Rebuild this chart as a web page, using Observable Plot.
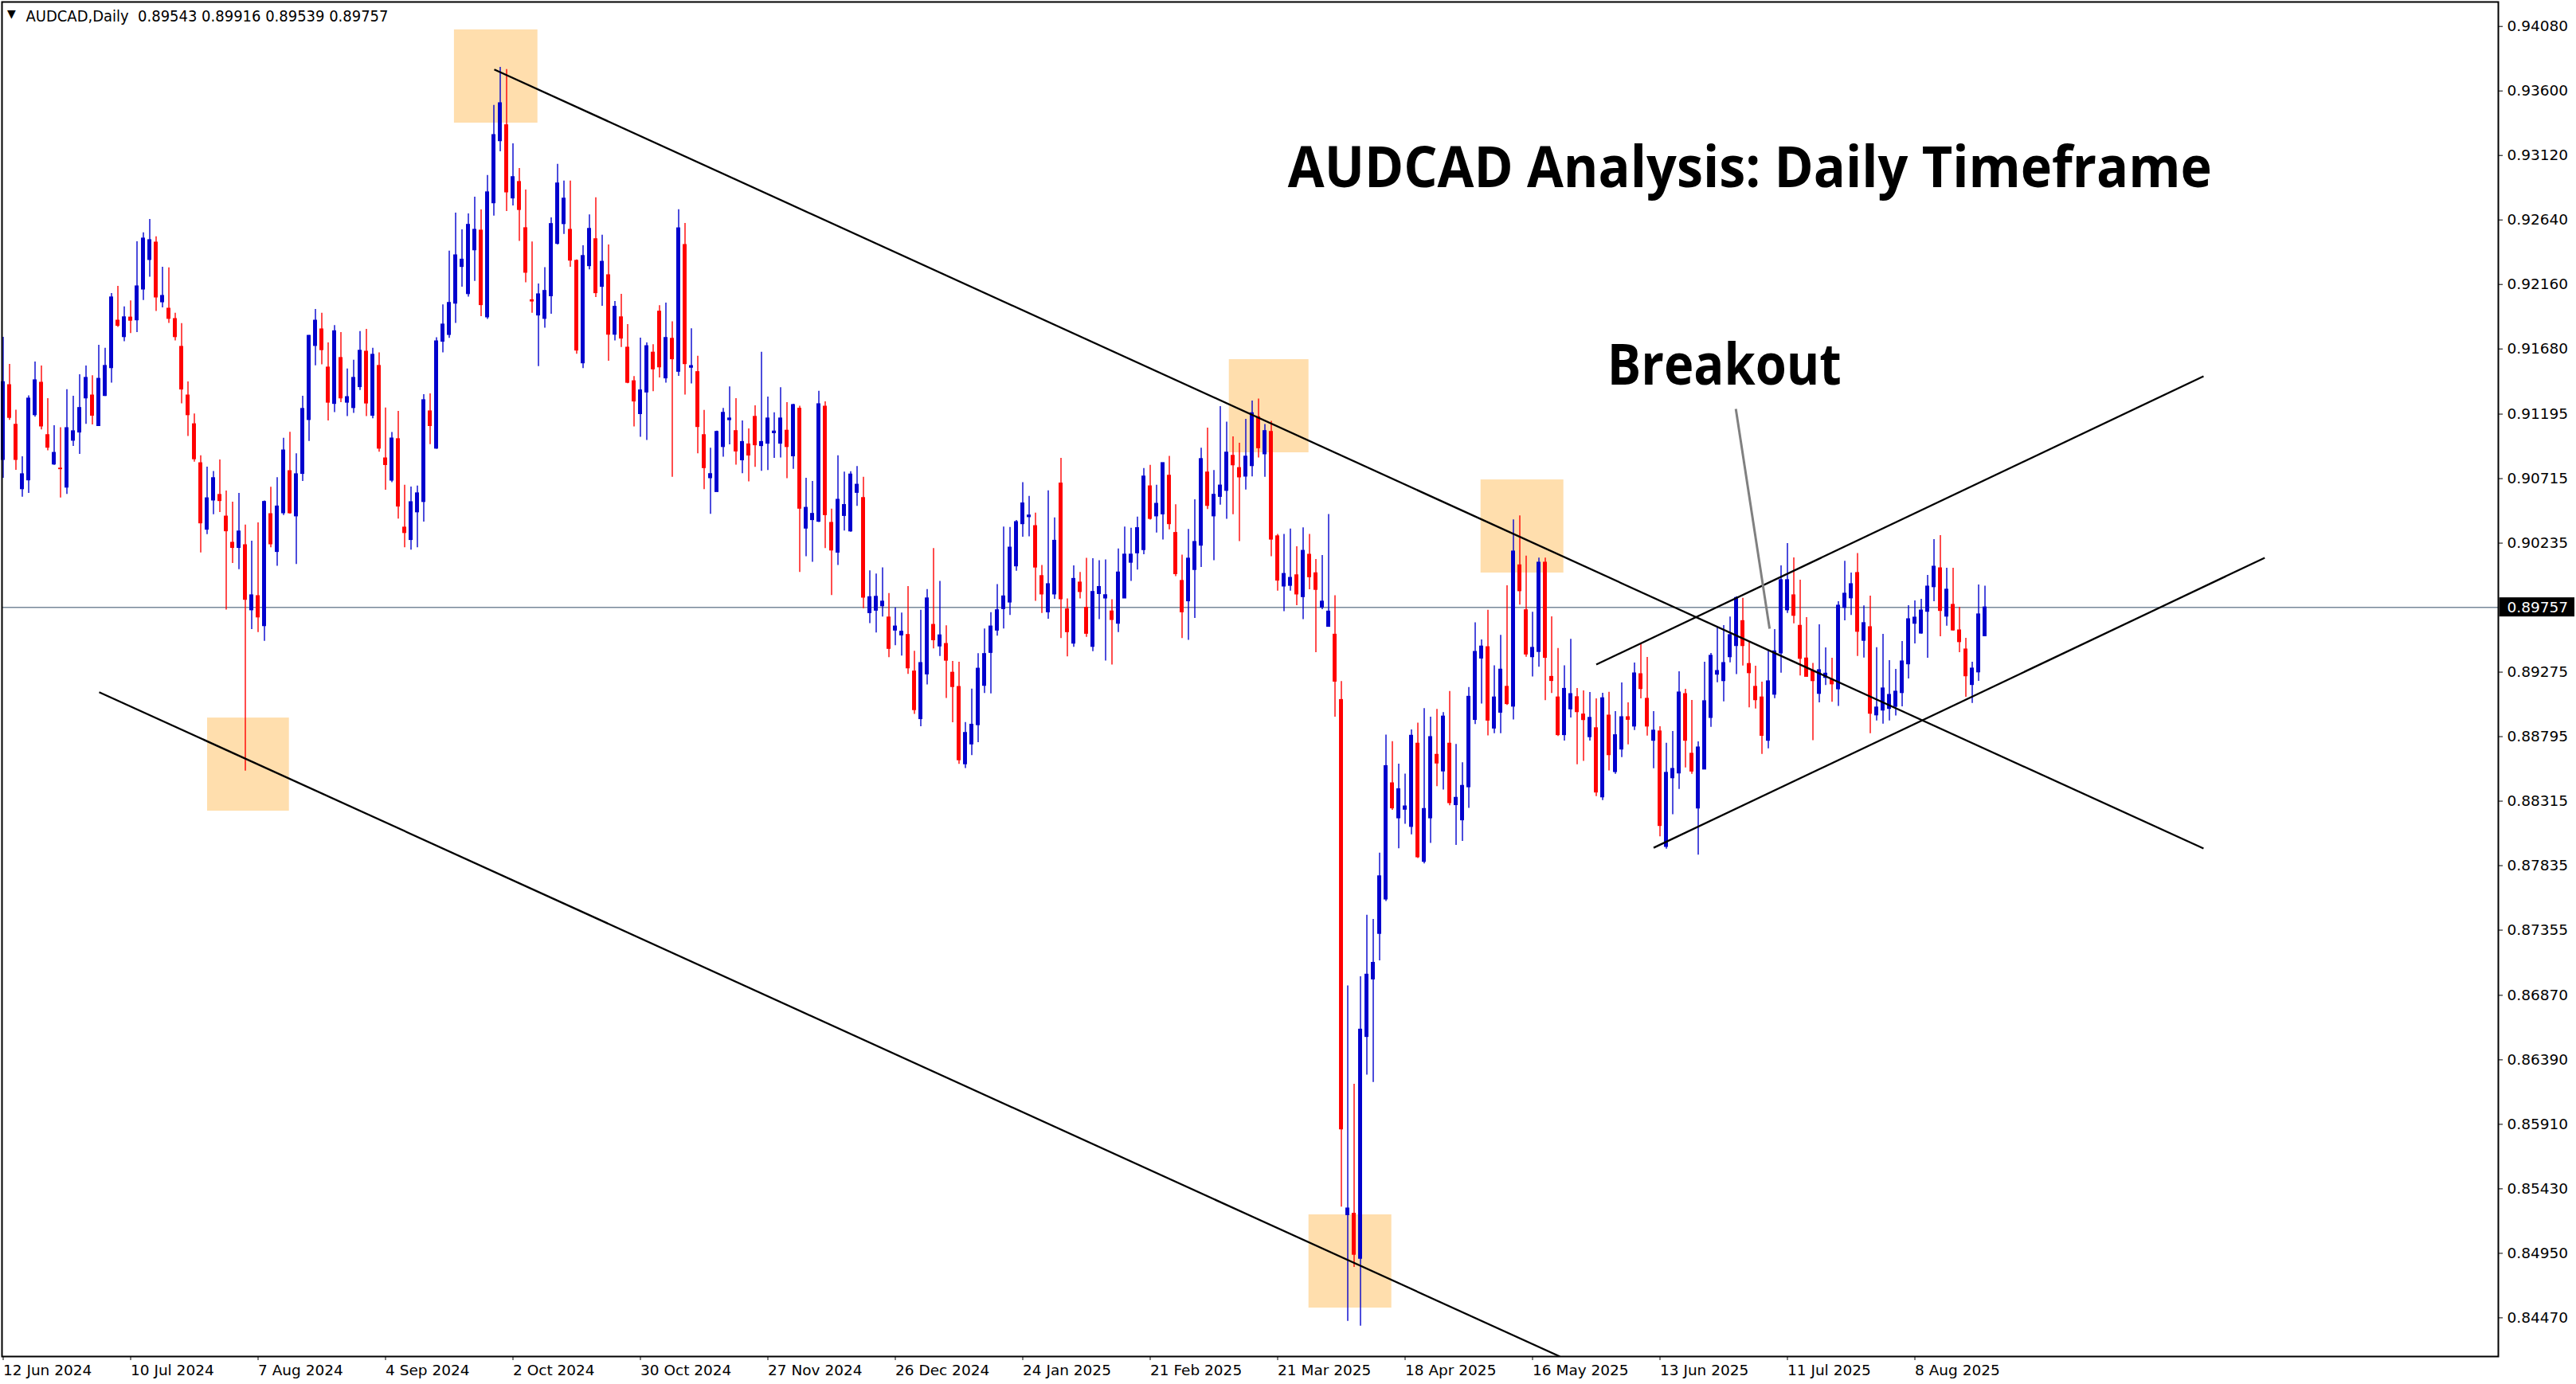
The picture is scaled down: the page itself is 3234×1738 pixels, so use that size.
<!DOCTYPE html>
<html><head><meta charset="utf-8">
<script src="https://cdn.jsdelivr.net/npm/d3@7"></script>
<script src="https://cdn.jsdelivr.net/npm/@observablehq/plot@0.6"></script>
<style>html,body{margin:0;padding:0;background:#fff;overflow:hidden}</style>
</head><body><div id="chart"></div>
<script>
// ---- Daily AUDCAD candles, bar 0 = 12 Jun 2024 ----
const open = [
0.90855,0.91411,0.91116,0.90637,0.90703,0.91188,0.91429,0.91039,0.90821,0.90790,
0.90649,0.90998,0.91059,0.91313,0.91334,0.91107,0.91331,0.91538,0.91891,0.91769,
0.91914,0.91894,0.92123,0.92343,0.92472,0.92028,0.91980,0.91903,0.91696,0.91334,
0.91120,0.90830,0.90336,0.90553,0.90594,0.90433,0.90238,0.90200,0.90220,0.89736,
0.89841,0.89618,0.90451,0.90170,0.90458,0.90771,0.90435,0.90751,0.91152,0.91703,
0.91826,0.91542,0.91272,0.91613,0.91281,0.91241,0.91397,0.91660,0.91184,0.91554,
0.90866,0.90701,0.91009,0.90351,0.90259,0.90465,0.90542,0.91216,0.90939,0.91735,
0.91785,0.92018,0.92291,0.92089,0.92415,0.92561,0.91916,0.92765,0.93227,0.93345,
0.92801,0.92923,0.92579,0.92043,0.91930,0.91905,0.92073,0.92463,0.92610,0.92567,
0.92336,0.91574,0.92297,0.92497,0.92143,0.92229,0.91787,0.91916,0.91690,0.91440,
0.91196,0.91357,0.91653,0.91958,0.91462,0.91756,0.91511,0.92454,0.91541,0.91508,
0.91039,0.90719,0.90616,0.90951,0.91151,0.91069,0.90852,0.90970,0.91175,0.90958,
0.90976,0.91054,0.90976,0.91072,0.90882,0.91236,0.90344,0.90407,0.90395,0.91251,
0.90386,0.90165,0.90438,0.90323,0.90610,0.90571,0.89715,0.89733,0.89766,0.89682,
0.89585,0.89549,0.89552,0.89280,0.88926,0.89259,0.89627,0.89467,0.89485,0.89271,
0.89165,0.88590,0.88738,0.88881,0.89174,0.89419,0.89585,0.89745,0.89794,0.90063,
0.90377,0.90429,0.90362,0.89990,0.89721,0.89854,0.90679,0.89742,0.89488,0.89942,
0.89754,0.89464,0.89857,0.89824,0.89727,0.89636,0.89824,0.90090,0.90160,0.90184,
0.90658,0.90435,0.90450,0.90737,0.90311,0.89954,0.89803,0.90036,0.90217,0.90761,
0.90435,0.90580,0.90625,0.90885,0.90794,0.90731,0.90809,0.91172,0.90897,0.91063,
0.90286,0.89913,0.89918,0.89996,0.89834,0.90149,0.90011,0.89756,0.89613,0.89554,
0.89068,0.85235,0.85245,0.84910,0.86561,0.86989,0.87328,0.87584,0.88448,0.88188,
0.88252,0.88124,0.88743,0.87864,0.88188,0.88660,0.88537,0.88743,0.88286,0.88173,
0.88419,0.88920,0.89377,0.89461,0.88856,0.88974,0.89166,0.89019,0.90070,0.89736,
0.89387,0.89426,0.90090,0.89240,0.89087,0.88807,0.88999,0.89089,0.88960,0.88792,
0.88858,0.88344,0.88952,0.88532,0.88700,0.88940,0.88871,0.89260,0.89077,0.88765,
0.88834,0.87975,0.88486,0.88522,0.89112,0.88668,0.88261,0.88551,0.88935,0.89257,
0.89209,0.89387,0.89470,0.89655,0.89336,0.89166,0.89087,0.88765,0.89108,0.89415,
0.89736,0.89847,0.89620,0.89377,0.89282,0.89114,0.89233,0.89219,0.89148,0.89754,
0.89825,0.90013,0.89509,0.89610,0.88954,0.88990,0.89002,0.89018,0.89120,0.89334,
0.89636,0.89563,0.89725,0.89908,0.90048,0.89689,0.89776,0.89586,0.89444,0.89180,
0.89274,0.89543];
const high = [
0.91767,0.91565,0.91225,0.90878,0.91331,0.91583,0.91554,0.91311,0.91109,0.91095,
0.91377,0.91329,0.91488,0.91554,0.91481,0.91708,0.91685,0.92093,0.92146,0.91994,
0.92039,0.92479,0.92545,0.92644,0.92515,0.92288,0.92284,0.91946,0.91869,0.91436,
0.91197,0.90885,0.90801,0.90769,0.90855,0.90624,0.90540,0.90606,0.90370,0.90250,
0.90386,0.90549,0.90651,0.90723,0.91016,0.91061,0.90900,0.91329,0.91780,0.91975,
0.91946,0.91726,0.91855,0.91803,0.91531,0.91597,0.91810,0.91826,0.91685,0.91651,
0.91241,0.91059,0.91216,0.90667,0.90653,0.90660,0.91340,0.91347,0.91764,0.92009,
0.92409,0.92692,0.92567,0.92685,0.92810,0.92715,0.92971,0.93493,0.93776,0.93760,
0.93207,0.93023,0.92864,0.92477,0.92164,0.92286,0.92656,0.93055,0.92930,0.92930,
0.92343,0.92449,0.92679,0.92806,0.92527,0.92454,0.92034,0.92087,0.91862,0.91476,
0.91762,0.91725,0.91713,0.92003,0.92022,0.91883,0.92717,0.92614,0.91831,0.91626,
0.91224,0.90942,0.91069,0.91239,0.91399,0.91311,0.91145,0.91085,0.91257,0.91656,
0.91323,0.91205,0.91393,0.91281,0.91269,0.91254,0.90719,0.90695,0.91366,0.91287,
0.90489,0.90885,0.90764,0.90767,0.90806,0.90725,0.90029,0.90005,0.90051,0.89860,
0.89754,0.89715,0.89912,0.89431,0.89736,0.89890,0.90196,0.89951,0.89621,0.89355,
0.89350,0.88900,0.89150,0.89413,0.89597,0.89718,0.89927,0.90356,0.90353,0.90404,
0.90685,0.90583,0.90459,0.90069,0.90625,0.90423,0.90867,0.89821,0.90066,0.90017,
0.90123,0.90120,0.90105,0.90111,0.89815,0.90193,0.90356,0.90347,0.90429,0.90791,
0.90815,0.90667,0.90831,0.90882,0.90522,0.90147,0.90338,0.90559,0.90942,0.91091,
0.90776,0.91251,0.91136,0.91027,0.90979,0.91157,0.91293,0.91308,0.91118,0.91142,
0.90301,0.90301,0.90340,0.90208,0.90350,0.90301,0.90114,0.90144,0.90449,0.89844,
0.89205,0.86940,0.86208,0.87009,0.87466,0.87436,0.87928,0.88807,0.88758,0.88591,
0.88517,0.88846,0.88896,0.89004,0.88940,0.88999,0.88974,0.89131,0.88738,0.88601,
0.89161,0.89643,0.89515,0.89736,0.89323,0.89549,0.89918,0.90409,0.90439,0.90139,
0.89721,0.90124,0.90124,0.89687,0.89451,0.89323,0.89520,0.89154,0.89136,0.89124,
0.89077,0.89118,0.89126,0.88982,0.89195,0.89047,0.89343,0.89482,0.89385,0.88982,
0.88869,0.88747,0.88834,0.89278,0.89148,0.89065,0.88757,0.89349,0.89415,0.89612,
0.89622,0.89685,0.89837,0.89825,0.89501,0.89320,0.89201,0.89438,0.89592,0.90066,
0.90232,0.90126,0.89960,0.89681,0.89341,0.89628,0.89456,0.89379,0.89800,0.90100,
0.90013,0.90159,0.89768,0.89841,0.89458,0.89557,0.89361,0.89296,0.89503,0.89770,
0.89806,0.89817,0.89995,0.90262,0.90291,0.90048,0.90048,0.89758,0.89527,0.89349,
0.89924,0.89916];
const low = [
0.90719,0.91150,0.90778,0.90578,0.90606,0.91173,0.91079,0.90923,0.90814,0.90571,
0.90599,0.90955,0.90896,0.91120,0.91116,0.91104,0.91327,0.91427,0.91842,0.91735,
0.91796,0.91803,0.92041,0.92214,0.91960,0.91987,0.91871,0.91740,0.91272,0.91030,
0.90839,0.90163,0.90299,0.90447,0.90463,0.89737,0.90084,0.90039,0.88539,0.89592,
0.89570,0.89505,0.90202,0.90063,0.90442,0.90451,0.90077,0.90694,0.90993,0.91556,
0.91563,0.91145,0.91207,0.91281,0.91177,0.91202,0.91372,0.91177,0.91161,0.90912,
0.90630,0.90685,0.90415,0.90202,0.90184,0.90202,0.90392,0.90968,0.90934,0.91651,
0.91760,0.91871,0.92141,0.92066,0.92184,0.91921,0.91901,0.92669,0.93148,0.92703,
0.92745,0.92481,0.92173,0.91946,0.91549,0.91835,0.91939,0.92454,0.92533,0.92288,
0.91642,0.91535,0.92270,0.92064,0.91998,0.91590,0.91740,0.91692,0.91422,0.91100,
0.91024,0.91000,0.91363,0.91465,0.91426,0.90725,0.91477,0.91338,0.91420,0.90900,
0.90634,0.90450,0.90616,0.90876,0.90967,0.90816,0.90752,0.90692,0.90800,0.90770,
0.90776,0.90867,0.90870,0.90716,0.90785,0.90017,0.90135,0.90093,0.90389,0.90196,
0.89845,0.90069,0.90326,0.90317,0.90510,0.89748,0.89637,0.89567,0.89685,0.89383,
0.89473,0.89395,0.89259,0.88962,0.88869,0.89180,0.89449,0.89392,0.89080,0.88899,
0.88590,0.88558,0.88654,0.88751,0.89117,0.89114,0.89543,0.89597,0.89697,0.90026,
0.90280,0.90283,0.89803,0.89712,0.89670,0.89818,0.89525,0.89389,0.89461,0.89821,
0.89534,0.89428,0.89667,0.89358,0.89328,0.89570,0.89824,0.89951,0.90036,0.90150,
0.90407,0.90311,0.90259,0.90335,0.89987,0.89525,0.89513,0.89676,0.90054,0.90486,
0.90105,0.90519,0.90413,0.90447,0.90247,0.90631,0.90728,0.90870,0.90725,0.90135,
0.89878,0.89726,0.89878,0.89770,0.89667,0.89888,0.89421,0.89741,0.89613,0.88940,
0.85294,0.84444,0.84846,0.84409,0.86277,0.86222,0.87127,0.87569,0.88247,0.87962,
0.88144,0.88065,0.87888,0.87849,0.88001,0.88424,0.88399,0.88281,0.87987,0.88016,
0.88262,0.88886,0.89038,0.88802,0.88817,0.88817,0.89028,0.88920,0.89775,0.89387,
0.89240,0.89313,0.89063,0.89117,0.88797,0.88763,0.88935,0.88587,0.88611,0.88763,
0.88350,0.88320,0.88540,0.88516,0.88640,0.88735,0.88842,0.89077,0.88800,0.88557,
0.88050,0.87959,0.88214,0.88403,0.88563,0.88516,0.87914,0.88551,0.88865,0.89197,
0.89055,0.89345,0.89257,0.89322,0.89010,0.89002,0.88664,0.88705,0.89079,0.89268,
0.89713,0.89636,0.89247,0.89239,0.88765,0.89047,0.89176,0.89051,0.89020,0.89657,
0.89697,0.89393,0.89381,0.88818,0.88913,0.88889,0.88913,0.88950,0.89018,0.89225,
0.89486,0.89559,0.89379,0.89800,0.89539,0.89618,0.89582,0.89420,0.89089,0.89043,
0.89207,0.89539];
const close = [
0.91433,0.91168,0.90855,0.90748,0.91311,0.91447,0.91104,0.90946,0.90907,0.90786,
0.91091,0.91068,0.91241,0.91465,0.91184,0.91458,0.91554,0.92064,0.91853,0.91916,
0.91891,0.92146,0.92502,0.92490,0.92064,0.92075,0.91905,0.91769,0.91379,0.91188,
0.90860,0.90383,0.90569,0.90719,0.90549,0.90324,0.90200,0.90322,0.89814,0.89847,
0.89683,0.90542,0.90227,0.90508,0.90925,0.90458,0.90748,0.91234,0.91778,0.91891,
0.91672,0.91281,0.91812,0.91313,0.91322,0.91465,0.91667,0.91275,0.91637,0.90939,
0.90817,0.91014,0.90508,0.90311,0.90540,0.90606,0.91299,0.91107,0.91737,0.91862,
0.92023,0.92377,0.92345,0.92604,0.92567,0.92007,0.92846,0.93272,0.93509,0.92846,
0.92959,0.92715,0.92248,0.92034,0.92087,0.92112,0.92610,0.92912,0.92799,0.92338,
0.91669,0.92372,0.92574,0.92096,0.92329,0.91787,0.91994,0.91758,0.91429,0.91290,
0.91372,0.91701,0.91529,0.91544,0.91762,0.91604,0.92578,0.91568,0.91553,0.91100,
0.90794,0.90749,0.91063,0.91205,0.91163,0.90918,0.90988,0.90888,0.90964,0.90988,
0.91163,0.91066,0.91163,0.90951,0.91263,0.90492,0.90498,0.90453,0.91269,0.90444,
0.90181,0.90558,0.90519,0.90746,0.90670,0.89830,0.89833,0.89836,0.89800,0.89449,
0.89615,0.89576,0.89304,0.88993,0.89343,0.89824,0.89513,0.89549,0.89361,0.89165,
0.88620,0.88823,0.88884,0.89301,0.89410,0.89615,0.89736,0.89839,0.90202,0.90392,
0.90531,0.90441,0.90054,0.89854,0.89930,0.90253,0.89818,0.89573,0.89969,0.89872,
0.89561,0.89872,0.89909,0.89848,0.89664,0.90017,0.90150,0.90150,0.90347,0.90731,
0.90416,0.90528,0.90831,0.90377,0.90005,0.89721,0.90120,0.90244,0.90861,0.90513,
0.90595,0.90664,0.90909,0.90815,0.90725,0.90879,0.91202,0.90942,0.91069,0.90262,
0.89957,0.90006,0.89977,0.89854,0.90178,0.89982,0.89888,0.89800,0.89726,0.89205,
0.85873,0.85284,0.84940,0.86615,0.87024,0.87112,0.87756,0.88576,0.88262,0.88404,
0.88276,0.88802,0.87898,0.88257,0.88792,0.88596,0.88945,0.88301,0.88340,0.88429,
0.89092,0.89426,0.89466,0.88915,0.89087,0.89294,0.89038,0.90173,0.89878,0.89407,
0.89456,0.90090,0.89382,0.89210,0.88807,0.89151,0.89112,0.88978,0.88919,0.88935,
0.88380,0.89081,0.88658,0.88806,0.88940,0.88921,0.89266,0.89150,0.88871,0.88840,
0.88131,0.88526,0.88555,0.89124,0.88765,0.88536,0.88715,0.89059,0.89397,0.89284,
0.89343,0.89551,0.89827,0.89470,0.89268,0.89067,0.88802,0.89207,0.89430,0.89960,
0.89960,0.89695,0.89375,0.89241,0.89209,0.89290,0.89264,0.89185,0.89770,0.89859,
0.89930,0.89576,0.89640,0.88966,0.89012,0.89154,0.89106,0.89130,0.89355,0.89669,
0.89681,0.89734,0.89912,0.90060,0.89731,0.89889,0.89586,0.89499,0.89245,0.89302,
0.89705,0.89757];

// ---- axes ----
const xTickLabels = ["12 Jun 2024","10 Jul 2024","7 Aug 2024","4 Sep 2024","2 Oct 2024","30 Oct 2024",
  "27 Nov 2024","26 Dec 2024","24 Jan 2025","21 Feb 2025","21 Mar 2025","18 Apr 2025","16 May 2025",
  "13 Jun 2025","11 Jul 2025","8 Aug 2025"];
const barsPerTick = 20;
const yTickValues = [0.94080,0.93600,0.93120,0.92640,0.92160,0.91680,0.91195,0.90715,0.90235,
  0.89275,0.88795,0.88315,0.87835,0.87355,0.86870,0.86390,0.85910,0.85430,0.84950,0.84470];
const xDomain = [-0.1875, 391.56];
const yDomain = [0.84182, 0.94262];

// ---- drawn objects (bar index, price) ----
const lineStartBar   = [77.06, 15.06, 250.0, 259.0];
const lineStartPrice = [0.93760, 0.89126, 0.89332, 0.87968];
const lineEndBar     = [345.3, 244.3, 345.3, 354.9];
const lineEndPrice   = [0.87963, 0.84182, 0.91477, 0.90126];
const pointerBar   = [271.9, 277.2];
const pointerPrice = [0.91234, 0.89598];
const boxBarFrom  = [70.8, 32.06, 192.4, 231.9, 204.9];
const boxBarTo    = [83.9, 44.9, 204.9, 244.9, 217.9];
const boxPriceTop = [0.94055, 0.88934, 0.91601, 0.90706, 0.85237];
const boxPriceBot = [0.93361, 0.88241, 0.90908, 0.90013, 0.84543];
const labelText  = ["AUDCAD Analysis: Daily Timeframe", "Breakout"];
const labelBar   = [274.1, 270.1];
const labelPrice = [0.93189, 0.91716];
const symbolName = "AUDCAD,Daily";

// ---- build tables ----
const candles = open.map((o, i) => ({i, o, h: high[i], l: low[i], c: close[i]}));
const upC = candles.filter(d => d.c >= d.o);
const dnC = candles.filter(d => d.c < d.o);
const trend = lineStartBar.map((b, k) => ({x1: b, y1: lineStartPrice[k], x2: lineEndBar[k], y2: lineEndPrice[k]}));
const pointer = [{x1: pointerBar[0], y1: pointerPrice[0], x2: pointerBar[1], y2: pointerPrice[1]}];
const boxes = boxBarFrom.map((b, k) => ({x1: b, x2: boxBarTo[k], y1: boxPriceBot[k], y2: boxPriceTop[k]}));
const labels = labelText.map((t, k) => ({t, x: labelBar[k], y: labelPrice[k]}));
const last = candles[candles.length - 1];
const info = `${symbolName}  ${last.o.toFixed(5)} ${last.h.toFixed(5)} ${last.l.toFixed(5)} ${last.c.toFixed(5)}`;
const tickBars = xTickLabels.map((_, k) => k * barsPerTick);

const BLUE = "#0000CD", RED = "#FF0000";
const half = 0.31;

const chart = Plot.plot({
  width: 3234, height: 1738,
  marginLeft: 2, marginTop: 2, marginRight: 98, marginBottom: 35,
  x: {type: "linear", domain: xDomain},
  y: {type: "linear", domain: yDomain},
  style: {fontFamily: "'DejaVu Sans', sans-serif", fontSize: "18.5px", background: "#fff", color: "#000"},
  marks: [
    Plot.rect(boxes, {x1: "x1", x2: "x2", y1: "y1", y2: "y2", fill: "#FFDEAD"}),
    Plot.ruleY([last.c], {stroke: "#778899", strokeWidth: 1.4}),
    Plot.ruleX(upC, {x: "i", y1: "l", y2: "h", stroke: BLUE, strokeWidth: 1.4}),
    Plot.ruleX(dnC, {x: "i", y1: "l", y2: "h", stroke: RED, strokeWidth: 1.4}),
    Plot.rect(upC, {x1: d => d.i - half, x2: d => d.i + half, y1: "o", y2: "c", fill: BLUE, insetTop: -0.6, insetBottom: -0.6}),
    Plot.rect(dnC, {x1: d => d.i - half, x2: d => d.i + half, y1: "o", y2: "c", fill: RED, insetTop: -0.6, insetBottom: -0.6}),
    Plot.link(trend, {x1: "x1", y1: "y1", x2: "x2", y2: "y2", stroke: "#000", strokeWidth: 2.3, clip: true}),
    Plot.link(pointer, {x1: "x1", y1: "y1", x2: "x2", y2: "y2", stroke: "#808080", strokeWidth: 3}),
    Plot.frame({stroke: "#000", strokeWidth: 2}),
    Plot.axisX({ticks: tickBars, tickFormat: d => xTickLabels[Math.round(d / barsPerTick)], tickSize: 5, tickPadding: 5,
      textAnchor: "start", label: null, fontSize: 18.5}),
    Plot.axisY({anchor: "right", ticks: yTickValues, tickFormat: d => d.toFixed(5), tickSize: 5, tickPadding: 6,
      label: null, fontSize: 18.5}),
    Plot.text(labels, {x: "x", y: "y", text: "t", textAnchor: "middle", lineAnchor: "top", fontSize: 72,
      fontWeight: "bold", fontFamily: "'Open Sans', 'Noto Sans', sans-serif", fill: "#000", className: "big-label"}),
    Plot.text([info], {frameAnchor: "top-left", dx: 30, dy: 10.5, lineAnchor: "top", textAnchor: "start",
      fontSize: 19, fill: "#000", className: "info-label"}),
    Plot.text(["▼"], {frameAnchor: "top-left", dx: 12, dy: 15, lineAnchor: "middle", textAnchor: "middle",
      fontSize: 14, fill: "#000"}),
    Plot.text([last.c], {y: d => d, text: d => d.toFixed(5), frameAnchor: "right", dx: 11, textAnchor: "start",
      fill: "#fff", fontSize: 18.5, className: "price-label"})
  ]
});
document.getElementById("chart").appendChild(chart);

// fit lengths of the free texts (Calibri / Tahoma look-alike widths)
const bigLens = [1160, 294];
chart.querySelectorAll(".big-label text").forEach((t, k) => {
  t.setAttribute("textLength", bigLens[k]); t.setAttribute("lengthAdjust", "spacingAndGlyphs");
});
chart.querySelectorAll(".info-label text").forEach(t => {
  t.setAttribute("textLength", 455); t.setAttribute("lengthAdjust", "spacingAndGlyphs");
});
// black box behind the current price label (same transform as the text)
chart.querySelectorAll(".price-label text").forEach(t => {
  const bb = t.getBBox();
  const r = document.createElementNS("http://www.w3.org/2000/svg", "rect");
  r.setAttribute("x", bb.x - 10); r.setAttribute("y", bb.y - 1.5);
  r.setAttribute("width", bb.width + 18); r.setAttribute("height", bb.height + 3);
  r.setAttribute("fill", "#000");
  const tr = t.getAttribute("transform");
  if (tr) r.setAttribute("transform", tr);
  const tx = t.getAttribute("x"), ty = t.getAttribute("y");
  if (tx != null) r.setAttribute("x", bb.x - 10);
  t.parentNode.insertBefore(r, t);
});
</script>
</body></html>
